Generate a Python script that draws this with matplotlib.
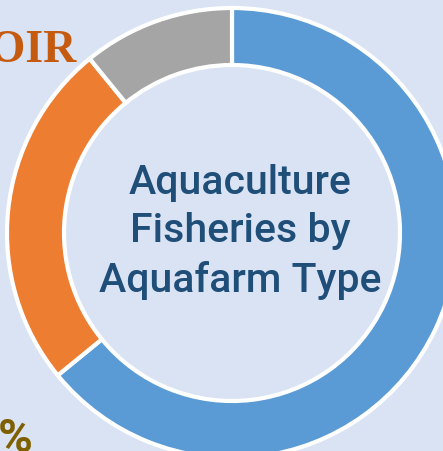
import matplotlib.pyplot as plt

# aquafarm type shares, clockwise from 12 o'clock
labels = ['Pond', 'Reservoir', 'Other']
shares = [64.1, 25.0, 10.9]
colors = ['#5b9bd5', '#ed7d31', '#a5a5a5']

title = 'Aquaculture\nFisheries by\nAquafarm Type'

bg = '#dae3f3'
W, H = 443, 452

fig = plt.figure(figsize=(W / 100, H / 100), dpi=100, facecolor=bg)
ax = fig.add_axes([0, 0, 1, 1])
ax.set_facecolor(bg)

ax.pie(shares, colors=colors, startangle=90, counterclock=False,
       center=(232, H - 234), radius=225, frame=True,
       wedgeprops=dict(width=57, edgecolor='white', linewidth=3))
ax.set_xlim(0, W)
ax.set_ylim(0, H)
ax.set_aspect('equal')
ax.axis('off')

# centre title
ax.text(240, H - 232, title, ha='center', va='center', color='#1f4e79',
        fontsize=29.5, family='Roboto', fontweight='medium', linespacing=1.33)

# cut-off labels from the surrounding slide
ax.text(76, H - 62, 'RESERVOIR', ha='right', va='baseline', color='#c55a11',
        fontsize=33, family='Liberation Serif', fontweight='bold')
ax.text(33, H - 452, '%', ha='right', va='baseline', color='#7f6000',
        fontsize=34, family='Roboto', fontweight='bold')

fig.savefig('out.png', dpi=100, facecolor=bg)
